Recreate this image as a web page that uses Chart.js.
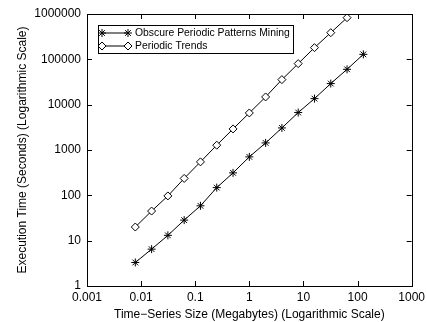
<!DOCTYPE html>
<html>
<head>
<meta charset="utf-8">
<script src="https://cdn.jsdelivr.net/npm/chart.js@4/dist/chart.umd.min.js"></script>
<style>
html,body{margin:0;padding:0;background:#fff;}
#wrap{width:427px;height:322px;}
</style>
</head>
<body>
<div id="wrap"><canvas id="c" width="427" height="322"></canvas></div>
<script>
// Data
const sizesMB = [0.0078125, 0.015625, 0.03125, 0.0625, 0.125, 0.25, 0.5, 1, 2, 4, 8, 16, 32, 64, 128];
const obscureTimes = [3.3, 6.5, 13.1, 28.4, 58.7, 148, 313, 705, 1433, 3068, 6700, 13600, 29200, 60200, 128800];
const trendsTimes = [20, 45, 97, 236, 547, 1276, 2917, 6560, 14800, 35700, 80400, 181000, 387000, 828000];
const xTickValues = [0.001, 0.01, 0.1, 1, 10, 100, 1000];
const xTickLabels = ['0.001', '0.01', '0.1', '1', '10', '100', '1000'];
const yTickValues = [1, 10, 100, 1000, 10000, 100000, 1000000];
const yTickLabels = ['1', '10', '100', '1000', '10000', '100000', '1000000'];
const seriesNames = ['Obscure Periodic Patterns Mining', 'Periodic Trends'];
const xTitle = 'Time\u2212Series Size (Megabytes) (Logarithmic Scale)';
const yTitle = 'Execution Time (Seconds) (Logarithmic Scale)';

const FONT = "'Liberation Sans', Arial, Helvetica, sans-serif";

function pts(xs, ys) { return ys.map((y, i) => ({x: xs[i], y: y})); }

const styles = [
  {pointStyle: 'star', radius: 4, bg: '#000'},
  {pointStyle: 'rectRot', radius: 4, bg: '#fff'}
];

const frameAndTicks = {
  id: 'frameAndTicks',
  afterDatasetsDraw(chart) {
    const ctx = chart.ctx, a = chart.chartArea;
    const xs = chart.scales.x, ys = chart.scales.y;
    ctx.save();
    ctx.strokeStyle = '#000';
    ctx.lineWidth = 1;
    ctx.strokeRect(Math.round(a.left) + 0.5, Math.round(a.top) + 0.5, Math.round(a.right - a.left), Math.round(a.bottom - a.top));
    const L = 5;
    ctx.beginPath();
    xTickValues.forEach(v => {
      const p = Math.round(xs.getPixelForValue(v)) + 0.5;
      ctx.moveTo(p, a.bottom); ctx.lineTo(p, a.bottom - L);
      ctx.moveTo(p, a.top); ctx.lineTo(p, a.top + L);
    });
    yTickValues.forEach(v => {
      const p = Math.round(ys.getPixelForValue(v)) + 0.5;
      ctx.moveTo(a.left, p); ctx.lineTo(a.left + L, p);
      ctx.moveTo(a.right, p); ctx.lineTo(a.right - L, p);
    });
    ctx.stroke();

    // legend
    const bx = 98.5, by = 25.5, bw = 195, bh = 28;
    ctx.fillStyle = '#fff';
    ctx.fillRect(bx, by, bw, bh);
    ctx.strokeRect(bx, by, bw, bh);
    ctx.font = '10.4px ' + FONT;
    ctx.textBaseline = 'middle';
    ctx.textAlign = 'left';
    const rows = [33, 46];
    seriesNames.forEach((name, i) => {
      const y = rows[i];
      ctx.beginPath();
      ctx.moveTo(102, y); ctx.lineTo(128, y);
      ctx.strokeStyle = '#000'; ctx.lineWidth = 1;
      ctx.stroke();
      const opt = {pointStyle: styles[i].pointStyle, radius: styles[i].radius, rotation: 0, borderWidth: 1};
      ctx.fillStyle = styles[i].bg; ctx.strokeStyle = '#000';
      Chart.helpers.drawPoint(ctx, opt, 102, y);
      ctx.fillStyle = styles[i].bg; ctx.strokeStyle = '#000';
      Chart.helpers.drawPoint(ctx, opt, 128, y);
      ctx.fillStyle = '#000';
      ctx.fillText(name, 135, y + 0.5);
    });
    ctx.restore();
  }
};

new Chart(document.getElementById('c'), {
  type: 'line',
  data: {
    datasets: [
      {
        label: seriesNames[0],
        data: pts(sizesMB, obscureTimes),
        borderColor: '#000', borderWidth: 1,
        pointStyle: styles[0].pointStyle, pointRadius: styles[0].radius,
        pointBackgroundColor: styles[0].bg, pointBorderColor: '#000', pointBorderWidth: 1,
        tension: 0
      },
      {
        label: seriesNames[1],
        data: pts(sizesMB, trendsTimes),
        borderColor: '#000', borderWidth: 1,
        pointStyle: styles[1].pointStyle, pointRadius: styles[1].radius,
        pointBackgroundColor: styles[1].bg, pointBorderColor: '#000', pointBorderWidth: 1,
        tension: 0
      }
    ]
  },
  options: {
    responsive: false,
    animation: false,
    devicePixelRatio: 1,
    layout: {padding: {top: 14, right: 13, left: 15, bottom: 0}},
    plugins: {legend: {display: false}, tooltip: {enabled: false}},
    scales: {
      x: {
        type: 'logarithmic', min: 0.001, max: 1000,
        afterBuildTicks(s) { s.ticks = xTickValues.map(v => ({value: v})); },
        afterFit(s) { s.height = 36; },
        ticks: {
          color: '#000', font: {family: FONT, size: 12}, padding: 2, maxRotation: 0, autoSkip: false,
          callback(v) { const i = xTickValues.indexOf(v); return i >= 0 ? xTickLabels[i] : ''; }
        },
        grid: {display: true, drawOnChartArea: false, drawTicks: true, tickLength: 2, color: 'rgba(0,0,0,0)'},
        border: {display: false},
        title: {display: true, text: xTitle, color: '#000', font: {family: FONT, size: 12}, padding: {top: 0, bottom: 0}}
      },
      y: {
        type: 'logarithmic', min: 1, max: 1000000,
        afterBuildTicks(s) { s.ticks = yTickValues.map(v => ({value: v})); },
        afterFit(s) { s.width = 72; },
        ticks: {
          color: '#000', font: {family: FONT, size: 12}, padding: 4, autoSkip: false,
          callback(v) { const i = yTickValues.indexOf(v); return i >= 0 ? yTickLabels[i] : ''; }
        },
        grid: {display: true, drawOnChartArea: false, drawTicks: true, tickLength: 2, color: 'rgba(0,0,0,0)'},
        border: {display: false},
        title: {display: true, text: yTitle, color: '#000', font: {family: FONT, size: 12}, padding: {top: 0, bottom: 0}}
      }
    }
  },
  plugins: [frameAndTicks]
});
</script>
</body>
</html>
